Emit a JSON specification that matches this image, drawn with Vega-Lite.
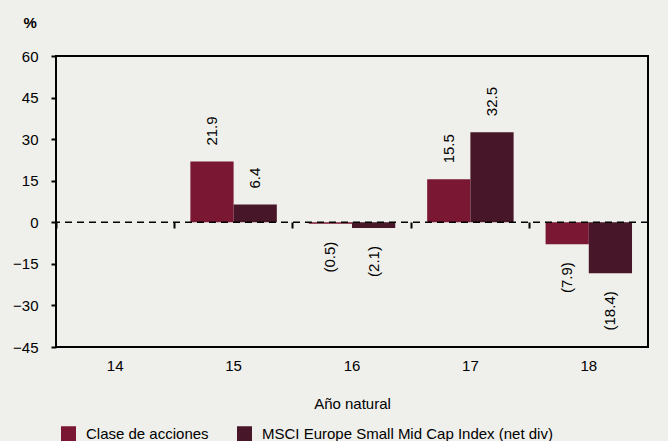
{
  "$schema": "https://vega.github.io/schema/vega-lite/v6.json",
  "width": 592,
  "height": 291,
  "autosize": {"type": "none"},
  "padding": {"left": 56, "top": 56, "right": 20, "bottom": 94},
  "background": "#efefeb",
  "config": {
    "font": "Liberation Sans",
    "view": {"stroke": "#000000", "strokeWidth": 2},
    "axis": {"labelFont": "Liberation Sans", "titleFont": "Liberation Sans", "labelColor": "#000", "titleColor": "#000", "labelFontSize": 15, "titleFontSize": 15, "grid": false}
  },
  "resolve": {"scale": {"x": "independent"}},
  "data": {
    "values": [
      {"year": "15", "series": "Clase de acciones", "value": 21.9, "label": "21.9"},
      {"year": "15", "series": "MSCI Europe Small Mid Cap Index (net div)", "value": 6.4, "label": "6.4"},
      {"year": "16", "series": "Clase de acciones", "value": -0.5, "label": "(0.5)"},
      {"year": "16", "series": "MSCI Europe Small Mid Cap Index (net div)", "value": -2.1, "label": "(2.1)"},
      {"year": "17", "series": "Clase de acciones", "value": 15.5, "label": "15.5"},
      {"year": "17", "series": "MSCI Europe Small Mid Cap Index (net div)", "value": 32.5, "label": "32.5"},
      {"year": "18", "series": "Clase de acciones", "value": -7.9, "label": "(7.9)"},
      {"year": "18", "series": "MSCI Europe Small Mid Cap Index (net div)", "value": -18.4, "label": "(18.4)"}
    ]
  },
  "encoding": {
    "y": {
      "field": "value", "type": "quantitative",
      "scale": {"domain": [-45, 60], "nice": false, "zero": false},
      "axis": {"values": [-45, -30, -15, 0, 15, 30, 45, 60], "domain": false, "tickColor": "#000", "tickSize": 5, "tickWidth": 2, "labelPadding": 13,
        "title": "%", "titleAngle": 0, "titleAlign": "left", "titleBaseline": "middle", "titleX": -33, "titleY": -34, "titleFontWeight": "bold"}
    }
  },
  "layer": [
    {
      "data": {"values": [{"year": "14"}, {"year": "15"}, {"year": "16"}, {"year": "17"}, {"year": "18"}]},
      "mark": {"type": "tick", "opacity": 0},
      "encoding": {
        "x": {"field": "year", "type": "nominal",
          "scale": {"domain": ["14", "15", "16", "17", "18"], "paddingInner": 0, "paddingOuter": 0},
          "axis": {"orient": "top", "offset": -166, "labels": false, "domain": false, "ticks": true, "tickSize": -6, "tickWidth": 2, "tickColor": "#000", "bandPosition": 0, "title": null}},
        "y": null
      }
    },
    {
      "encoding": {
        "x": {"field": "year", "type": "nominal",
          "scale": {"domain": ["14", "15", "16", "17", "18"], "paddingInner": 0.27, "paddingOuter": 0.135},
          "axis": {"orient": "bottom", "title": "Año natural", "labelAngle": 0, "ticks": false, "domain": false, "labelPadding": 11, "titlePadding": 23, "titleFontWeight": "normal"}},
        "xOffset": {"field": "series", "type": "nominal", "sort": ["Clase de acciones", "MSCI Europe Small Mid Cap Index (net div)"]}
      },
      "layer": [
        {
          "mark": {"type": "bar"},
          "encoding": {
            "color": {
              "field": "series", "type": "nominal",
              "scale": {"domain": ["Clase de acciones", "MSCI Europe Small Mid Cap Index (net div)"], "range": ["#7a1733", "#481629"]},
              "legend": {"orient": "none", "direction": "horizontal", "legendX": 5, "legendY": 370, "title": null, "symbolType": "square", "symbolSize": 225, "symbolStrokeWidth": 0, "symbolOpacity": 1, "labelFontSize": 15, "labelFont": "Liberation Sans", "labelColor": "#000", "labelOffset": 10, "columnPadding": 28, "labelLimit": 400}
            }
          }
        },
        {
          "transform": [{"filter": "datum.value >= 0"}],
          "mark": {"type": "text", "angle": -90, "align": "left", "baseline": "middle", "dx": 16, "fontSize": 15, "color": "#000"},
          "encoding": {"text": {"field": "label"}}
        },
        {
          "transform": [{"filter": "datum.value < 0"}],
          "mark": {"type": "text", "angle": -90, "align": "right", "baseline": "middle", "dx": -18, "fontSize": 15, "color": "#000"},
          "encoding": {"text": {"field": "label"}}
        }
      ]
    },
    {
      "data": {"values": [{"z": 0}]},
      "mark": {"type": "rule", "color": "#000", "strokeWidth": 1.5, "strokeDash": [7, 5]},
      "encoding": {"y": {"field": "z", "type": "quantitative"}}
    }
  ]
}
